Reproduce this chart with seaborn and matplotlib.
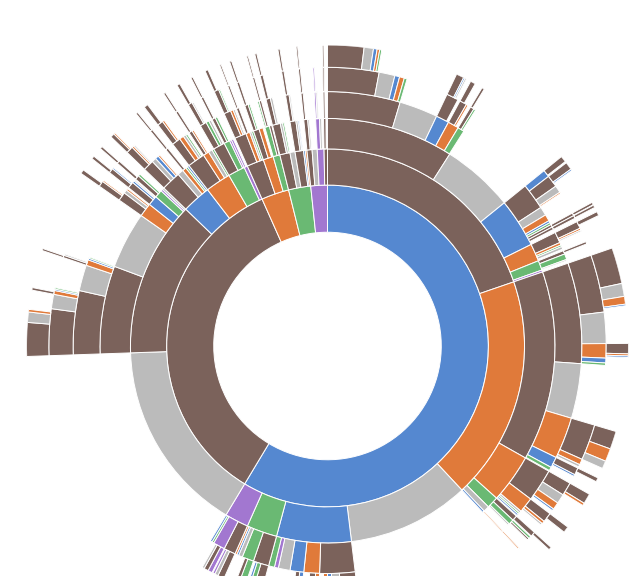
import numpy as np
import matplotlib
matplotlib.use("Agg")
import matplotlib.pyplot as plt
import seaborn as sns

# colour categories
COLOR_KEYS = ["b", "o", "n", "g", "e", "p"]
COLOR_HEX = ["#5588d0", "#e07a3a", "#7b625b", "#bbbbbb", "#6ab973", "#a277d0"]

# (name, parent, colour, angular share in degrees) for each ring, inner to outer
RING1 = [
    ("B", "root", "b", 211), ("N", "root", "n", 125), ("O", "root", "o", 10),
    ("E", "root", "e", 8), ("P", "root", "p", 6),
]
RING2 = [
    ("Bn", "B", "n", 71), ("Bo", "B", "o", 66), ("-", "B", "g", 36), ("Bb", "B", "b", 22),
    ("Be", "B", "e", 9), ("Bp", "B", "p", 7),
    ("-", "N", "g", 57), ("Nn", "N", "n", 46), ("Nb", "N", "b", 8.5), ("No", "N", "o", 7.5),
    ("Ne", "N", "e", 5), ("Np", "N", "p", 1),
    ("On", "O", "n", 5), ("Oo", "O", "o", 3), ("Oe", "O", "e", 2),
    ("En", "E", "n", 3), ("-", "E", "g", 1.5), ("En2", "E", "n", 2.5), ("-", "E", "b", 0.5), ("-", "E", "o", 0.5),
    ("Pn", "P", "n", 1.5), ("-", "P", "g", 1.5), ("Pp", "P", "p", 2), ("Pn2", "P", "n", 1),
]
RING3 = [
    ("Bnn", "Bn", "n", 32.5), ("-", "Bn", "g", 18.5), ("Bnb", "Bn", "b", 12.5), ("Bno", "Bn", "o", 4.5),
    ("Bne", "Bn", "e", 2.5), ("-", "Bn", "p", 0.5),
    ("Bon", "Bo", "n", 48.5), ("Boo", "Bo", "o", 12.5), ("Boe", "Bo", "e", 3), ("-", "Bo", "g", 1.5), ("Bob", "Bo", "b", 0.5),
    ("Bbn", "Bb", "n", 9), ("Bbo", "Bb", "o", 4), ("Bbb", "Bb", "b", 3.5), ("-", "Bb", "g", 3),
    ("-", "Bb", "p", 1), ("-", "Bb", "e", 1.5),
    ("Ben", "Be", "n", 4), ("Bee", "Be", "e", 3), ("-", "Be", "g", 1), ("-", "Be", "b", 0.5), ("-", "Be", "o", 0.5),
    ("Bpn", "Bp", "n", 3), ("Bpp", "Bp", "p", 3), ("-", "Bp", "e", 0.5), ("-", "Bp", "b", 0.5),
    ("Nnn", "Nn", "n", 22.5), ("-", "Nn", "g", 14.5), ("Nno", "Nn", "o", 3.5), ("Nnb", "Nn", "b", 2.5),
    ("Nne", "Nn", "e", 2), ("-", "Nn", "p", 0.5), ("-", "Nn", "g", 0.5),
    ("Nbn", "Nb", "n", 5), ("-", "Nb", "g", 1.5), ("Nbo", "Nb", "o", 1), ("-", "Nb", "e", 0.5), ("-", "Nb", "b", 0.5),
    ("Non", "No", "n", 4.5), ("Noo", "No", "o", 1.5), ("-", "No", "g", 1), ("-", "No", "e", 0.5),
    ("Nen", "Ne", "n", 3), ("Nee", "Ne", "e", 1.5), ("-", "Ne", "p", 0.5),
    ("-", "Np", "p", 0.5),
    ("Onn", "On", "n", 3), ("Ono", "On", "o", 1), ("-", "On", "g", 0.5), ("-", "On", "e", 0.5),
    ("Oon", "Oo", "n", 1.5), ("-", "Oo", "o", 1),
    ("Oee", "Oe", "e", 1.2), ("Oen", "Oe", "n", 0.6),
    ("Enn", "En", "n", 2), ("-", "En", "g", 0.6), ("-", "En", "e", 0.4),
    ("E2n", "En2", "n", 1.5), ("-", "En2", "g", 0.5), ("-", "En2", "b", 0.3),
    ("Pnn", "Pn", "n", 1), ("-", "Pn", "g", 0.4),
    ("Ppp", "Pp", "p", 1), ("-", "Pp", "g", 0.5),
    ("P2n", "Pn2", "n", 0.6),
]
RING4 = [
    ("a1", "Bnn", "n", 16.6), ("-", "Bnn", "g", 8.8), ("a2", "Bnn", "b", 3), ("a3", "Bnn", "o", 2.5), ("a4", "Bnn", "e", 1.5),
    ("b1", "Bnb", "n", 6), ("-", "Bnb", "g", 2), ("-", "Bnb", "o", 1.5), ("-", "Bnb", "b", 0.5), ("-", "Bnb", "e", 0.5),
    ("b2", "Bnb", "n", 0.6), ("b3", "Bnb", "n", 0.6),
    ("c1", "Bno", "n", 2.5), ("-", "Bno", "o", 0.6), ("-", "Bno", "e", 0.4), ("-", "Bno", "g", 0.6),
    ("d1", "Bne", "n", 0.8), ("-", "Bne", "e", 1.3), ("-", "Bne", "g", 0.3),
    ("e1", "Bon", "n", 23), ("-", "Bon", "g", 12.5), ("e2", "Bon", "o", 9.5), ("e3", "Bon", "b", 2.5), ("-", "Bon", "e", 0.8),
    ("f1", "Boo", "n", 7.5), ("f2", "Boo", "o", 3.5), ("-", "Boo", "g", 0.5), ("-", "Boo", "e", 0.4), ("-", "Boo", "b", 0.4),
    ("g1", "Boe", "n", 1.2), ("g2", "Boe", "e", 1.2), ("-", "Boe", "g", 0.4),
    ("h1", "Bob", "o", 0.3),
    ("-", "Bbn", "n", 4), ("-", "Bbn", "g", 2), ("-", "Bbn", "b", 1), ("-", "Bbn", "o", 1),
    ("-", "Bbo", "o", 1), ("-", "Bbo", "n", 1.5),
    ("-", "Bbb", "b", 1), ("-", "Bbb", "n", 1),
    ("-", "Ben", "n", 2), ("-", "Ben", "e", 1), ("-", "Ben", "b", 0.5),
    ("-", "Bee", "e", 1.5), ("-", "Bee", "n", 0.8),
    ("-", "Bpn", "n", 1.5), ("-", "Bpn", "g", 0.8), ("-", "Bpn", "p", 0.5),
    ("-", "Bpp", "p", 1), ("-", "Bpp", "n", 1), ("-", "Bpp", "g", 0.5),
    ("k1", "Nnn", "n", 14.6), ("-", "Nnn", "g", 5.9), ("k2", "Nnn", "o", 1.3), ("-", "Nnn", "b", 0.4), ("-", "Nnn", "e", 0.3),
    ("l1", "Nno", "n", 2), ("-", "Nno", "g", 0.8), ("-", "Nno", "o", 0.4),
    ("m1", "Nnb", "n", 1.5), ("-", "Nnb", "b", 0.5), ("-", "Nnb", "g", 0.3),
    ("n1", "Nne", "n", 1), ("-", "Nne", "e", 0.5),
    ("p1", "Nbn", "n", 2.5), ("-", "Nbn", "g", 1), ("-", "Nbn", "b", 0.8), ("-", "Nbn", "o", 0.4),
    ("q1", "Nbo", "n", 0.6),
    ("r1", "Non", "n", 2), ("-", "Non", "o", 1), ("-", "Non", "g", 0.6), ("-", "Non", "e", 0.4),
    ("s1", "Noo", "n", 0.8), ("-", "Noo", "o", 0.4),
    ("t1", "Nen", "n", 1.5), ("-", "Nen", "e", 0.7), ("-", "Nen", "g", 0.5),
    ("u1", "Nee", "n", 0.8), ("-", "Nee", "e", 0.5),
    ("v1", "Onn", "n", 1.6), ("-", "Onn", "o", 0.6), ("-", "Onn", "g", 0.4),
    ("w1", "Ono", "n", 0.6),
    ("x1", "Oon", "n", 0.8), ("-", "Oon", "e", 0.4),
    ("-", "Oee", "e", 0.4), ("y1", "Oee", "n", 0.5),
    ("z1", "Enn", "n", 1), ("-", "Enn", "g", 0.5),
    ("z2", "E2n", "n", 0.8), ("-", "E2n", "g", 0.3),
    ("z3", "Pnn", "n", 0.5),
    ("z4", "Ppp", "p", 0.4), ("-", "Ppp", "g", 0.3),
    ("z5", "P2n", "n", 0.4),
]
RING5 = [
    ("a11", "a1", "n", 10.7), ("-", "a1", "g", 3.3), ("-", "a1", "b", 1), ("-", "a1", "o", 1), ("-", "a1", "e", 0.6),
    ("a21", "a2", "n", 2.5),
    ("a31", "a3", "n", 1.5), ("-", "a3", "o", 0.4),
    ("a41", "a4", "n", 0.8), ("-", "a4", "e", 0.4),
    ("b11", "b1", "b", 1.5), ("b12", "b1", "n", 2.5), ("-", "b1", "g", 1.5), ("-", "b1", "o", 0.3),
    ("b21", "b2", "n", 0.6), ("b31", "b3", "n", 0.6),
    ("c11", "c1", "n", 1.5), ("-", "c1", "o", 0.4), ("-", "c1", "g", 0.3),
    ("d11", "d1", "n", 0.5),
    ("e11", "e1", "n", 12), ("-", "e1", "g", 6.5), ("e12", "e1", "o", 3), ("-", "e1", "b", 1), ("-", "e1", "e", 0.5),
    ("e21", "e2", "n", 7.5), ("-", "e2", "o", 1.2), ("-", "e2", "g", 0.5),
    ("e31", "e3", "n", 1.5), ("-", "e3", "b", 0.4),
    ("f11", "f1", "n", 2.8), ("-", "f1", "g", 2), ("-", "f1", "o", 1.5), ("-", "f1", "b", 0.4),
    ("f21", "f2", "n", 2), ("-", "f2", "o", 0.6), ("-", "f2", "g", 0.4),
    ("g11", "g1", "n", 1),
    ("-", "g2", "e", 0.5), ("g21", "g2", "n", 0.4),
    ("h11", "h1", "o", 0.3),
    ("k11", "k1", "n", 9.7), ("-", "k1", "g", 3), ("k12", "k1", "o", 0.8), ("-", "k1", "b", 0.3), ("-", "k1", "e", 0.3),
    ("k21", "k2", "n", 0.5), ("-", "k2", "g", 0.3),
    ("l11", "l1", "n", 1.2), ("-", "l1", "o", 0.3),
    ("m11", "m1", "n", 1), ("-", "m1", "b", 0.3),
    ("n11", "n1", "n", 0.6),
    ("p11", "p1", "n", 1.5), ("-", "p1", "o", 0.4), ("-", "p1", "g", 0.3),
    ("q11", "q1", "n", 0.5),
    ("r11", "r1", "n", 1.2), ("-", "r1", "o", 0.4),
    ("s11", "s1", "n", 0.5),
    ("t11", "t1", "n", 0.9), ("-", "t1", "g", 0.3),
    ("u11", "u1", "n", 0.5),
    ("v11", "v1", "n", 1), ("-", "v1", "e", 0.3),
    ("w11", "w1", "n", 0.4),
    ("x11", "x1", "n", 0.5),
    ("y11", "y1", "n", 0.4),
    ("z11", "z1", "n", 0.6),
    ("z21", "z2", "n", 0.5),
    ("z31", "z3", "n", 0.4),
    ("z41", "z4", "p", 0.3),
    ("z51", "z5", "n", 0.3),
]
RING6 = [
    ("-", "a11", "n", 7), ("-", "a11", "g", 1.8), ("-", "a11", "b", 0.7), ("-", "a11", "o", 0.5), ("-", "a11", "e", 0.4),
    ("-", "a21", "n", 1.5), ("-", "a21", "b", 0.3), ("-", "a21", "g", 0.3),
    ("-", "a31", "n", 1),
    ("-", "a41", "n", 0.5),
    ("-", "b11", "n", 1.2),
    ("-", "b12", "n", 1.5), ("-", "b12", "b", 0.3),
    ("-", "b21", "n", 0.5), ("-", "b31", "n", 0.5),
    ("-", "c11", "n", 0.8),
    ("-", "e11", "n", 7), ("-", "e11", "g", 2.5), ("-", "e11", "o", 1.5), ("-", "e11", "b", 0.3),
    ("-", "e12", "n", 2), ("-", "e12", "o", 0.4), ("-", "e12", "b", 0.3),
    ("-", "e21", "n", 3.5), ("-", "e21", "o", 2.5), ("-", "e21", "g", 1.5),
    ("-", "e31", "n", 0.8),
    ("-", "f11", "n", 2), ("-", "f11", "o", 0.5),
    ("-", "f21", "n", 1.2),
    ("-", "g11", "n", 0.6),
    ("-", "k11", "n", 6.5), ("-", "k11", "g", 2), ("-", "k11", "o", 0.5),
    ("-", "k12", "n", 0.5),
    ("-", "k21", "n", 0.4),
    ("-", "l11", "n", 0.8),
    ("-", "m11", "n", 0.6),
    ("-", "n11", "n", 0.5),
    ("-", "p11", "n", 0.8), ("-", "p11", "o", 0.3),
    ("-", "q11", "n", 0.4),
    ("-", "r11", "n", 0.8),
    ("-", "s11", "n", 0.4),
    ("-", "t11", "n", 0.6),
    ("-", "u11", "n", 0.4),
    ("-", "v11", "n", 0.6),
    ("-", "w11", "n", 0.3),
    ("-", "x11", "n", 0.4),
    ("-", "y11", "n", 0.3),
    ("-", "z11", "n", 0.4),
    ("-", "z21", "n", 0.4),
    ("-", "z31", "n", 0.3),
    ("-", "z51", "n", 0.3),
]
RINGS = [RING1, RING2, RING3, RING4, RING5, RING6]

sns.set_theme(style="white")
palette = dict(zip(COLOR_KEYS, sns.color_palette(COLOR_HEX)))

W, H, DPI = 643, 576, 100
fig = plt.figure(figsize=(W / DPI, H / DPI), dpi=DPI)
cx, cy, R = 327.5, 346.0, 301.0
ax = fig.add_axes([(cx - R) / W, (H - cy - R) / H, 2 * R / W, 2 * R / H], projection="polar")
ax.set_theta_zero_location("N")
ax.set_theta_direction(-1)
ax.set_ylim(0, R)
ax.set_axis_off()

n_levels = len(RINGS) + 1
radii = [R * np.sqrt(k / n_levels) for k in range(n_levels + 1)]

starts = {"root": 0.0}
cursor = {"root": 0.0}
for depth, ring in enumerate(RINGS, start=1):
    thetas, widths, cols = [], [], []
    for name, parent, ckey, span in ring:
        s = starts[parent] + cursor.get(parent, 0.0)
        cursor[parent] = cursor.get(parent, 0.0) + span
        if name != "-":
            starts[name] = s
            cursor[name] = 0.0
        thetas.append(np.deg2rad(s))
        widths.append(np.deg2rad(span))
        cols.append(palette[ckey])
    r0, r1 = radii[depth], radii[depth + 1]
    ax.bar(thetas, r1 - r0, width=widths, bottom=r0, align="edge",
           color=cols, edgecolor="white", linewidth=0.7)

fig.savefig("out.png", dpi=DPI)
